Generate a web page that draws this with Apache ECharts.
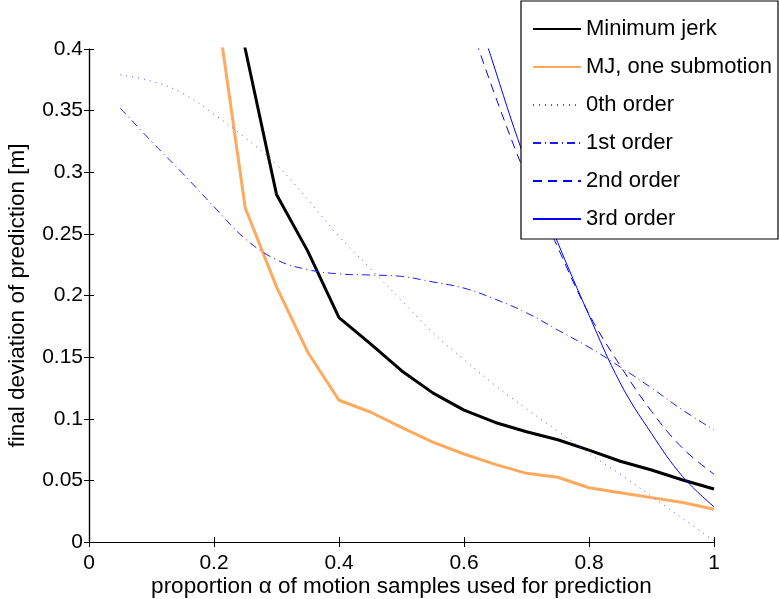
<!DOCTYPE html>
<html>
<head>
<meta charset="utf-8">
<script src="https://cdn.jsdelivr.net/npm/echarts@6/dist/echarts.min.js"></script>
<style>html,body{margin:0;padding:0;background:#fff}#c{width:779px;height:599px}</style>
</head>
<body>
<div id="c"></div>
<script>
const xs = [0.05,0.1,0.15,0.2,0.25,0.3,0.35,0.4,0.45,0.5,0.55,0.6,0.65,0.7,0.75,0.8,0.85,0.9,0.95,1];
const xTicks = ['0','0.2','0.4','0.6','0.8','1'];
// Minimum jerk (x from 0.2)
const mjX = [0.2,0.25,0.3,0.35,0.4,0.45,0.5,0.55,0.6,0.65,0.7,0.75,0.8,0.85,0.9,0.95,1];
const minJerk = [0.55,0.40,0.282,0.236,0.182,0.161,0.139,0.121,0.107,0.097,0.0895,0.083,0.0746,0.0655,0.0584,0.0503,0.043];
const mjOne   = [0.45,0.271,0.207,0.154,0.115,0.1055,0.093,0.081,0.0714,0.063,0.0557,0.0525,0.044,0.040,0.036,0.032,0.0265];
const order0 = [0.379,0.374,0.364,0.347,0.328,0.306,0.278,0.248,0.222,0.196,0.170,0.148,0.127,0.108,0.090,0.072,0.055,0.037,0.019,0.001];
const order1 = [0.352,0.325,0.299,0.272,0.246,0.229,0.221,0.2175,0.2166,0.2155,0.211,0.206,0.197,0.186,0.172,0.158,0.142,0.125,0.107,0.091];
const hiX = [0.55,0.6,0.65,0.7,0.75,0.8,0.85,0.9,0.95,1];
const order2 = [0.51,0.435,0.362,0.296,0.239,0.185,0.143,0.106,0.076,0.055];
const order3 = [0.56,0.465,0.383,0.307,0.243,0.184,0.129,0.088,0.053,0.0286];
const names = ['Minimum jerk','MJ, one submotion','0th order','1st order','2nd order','3rd order'];

const pairs = (x, y) => x.map((v, i) => [v, y[i]]);
const font = 'Liberation Sans, Arial, Helvetica, sans-serif';
const fs = 21;
const chart = echarts.init(document.getElementById('c'));
const axisCommon = {
  axisLine: {show: true, lineStyle: {color: '#000', width: 1.2}},
  axisTick: {show: true, inside: true, length: 5, lineStyle: {color: '#000', width: 1}},
  splitLine: {show: false}
};
chart.setOption({
  animation: false,
  backgroundColor: '#fff',
  textStyle: {fontFamily: font},
  grid: {left: 89, top: 49, right: 65, bottom: 57, containLabel: false, outerBoundsMode: 'none'},
  xAxis: [
    Object.assign({type: 'value', min: 0, max: 1, interval: 0.2, position: 'bottom',
      name: 'proportion \u03b1 of motion samples used for prediction', nameLocation: 'middle', nameGap: 33,
      nameMoveOverlap: false,
      nameTextStyle: {fontSize: 22.5, color: '#000', fontFamily: font},
      axisLabel: {fontSize: fs, color: '#000', margin: 11, fontFamily: font,
        formatter: (v) => xTicks[Math.round(v / 0.2)]}}, axisCommon),
    Object.assign({type: 'value', min: 0, max: 1, interval: 0.2, position: 'top', axisLabel: {show: false}}, axisCommon)
  ],
  yAxis: [
    Object.assign({type: 'value', min: 0, max: 0.4, interval: 0.05, position: 'left',
      name: 'final deviation of prediction [m]', nameLocation: 'middle', nameGap: 60,
      nameMoveOverlap: false,
      nameTextStyle: {fontSize: 22.5, color: '#000', fontFamily: font},
      axisLabel: {fontSize: fs, color: '#000', margin: 6, fontFamily: font}}, axisCommon),
    Object.assign({type: 'value', min: 0, max: 0.4, interval: 0.05, position: 'right', axisLabel: {show: false}}, axisCommon)
  ],
  legend: {
    show: true, z: 100, orient: 'vertical', left: 521, top: 1,
    padding: [17, 10, 10, 11], itemWidth: 48, itemHeight: 21, itemGap: 16,
    backgroundColor: 'rgba(0,0,0,0)', borderWidth: 0,
    itemStyle: {opacity: 0},
    textStyle: {fontSize: 22, color: '#000', fontFamily: font, lineHeight: 21},
    data: names
  },
  graphic: [{type: 'rect', z: 50, shape: {x: 521, y: 1, width: 257, height: 238},
    style: {fill: '#fff', stroke: '#000', lineWidth: 1.2}}],
  series: [
    {name: names[0], type: 'line', symbol: 'none', data: pairs(mjX, minJerk), lineStyle: {color: '#000', width: 3}, itemStyle: {color: '#000'}},
    {name: names[1], type: 'line', symbol: 'none', data: pairs(mjX, mjOne), lineStyle: {color: '#ffa95e', width: 3}, itemStyle: {color: '#ffa95e'}},
    {name: names[2], type: 'line', symbol: 'none', smooth: 0.4, data: pairs(xs, order0), lineStyle: {color: '#5050ff', width: 1, type: [1, 5]}, itemStyle: {color: '#5050ff'}},
    {name: names[3], type: 'line', symbol: 'none', smooth: 0.4, data: pairs(xs, order1), lineStyle: {color: '#1a1aff', width: 1, type: [8, 4, 1, 4]}, itemStyle: {color: '#1a1aff'}},
    {name: names[4], type: 'line', symbol: 'none', smooth: 0.4, data: pairs(hiX, order2), lineStyle: {color: '#0000ff', width: 1, type: [9, 6]}, itemStyle: {color: '#0000ff'}},
    {name: names[5], type: 'line', symbol: 'none', smooth: 0.4, data: pairs(hiX, order3), lineStyle: {color: '#0000ff', width: 1}, itemStyle: {color: '#0000ff'}}
  ]
});
</script>
</body>
</html>
